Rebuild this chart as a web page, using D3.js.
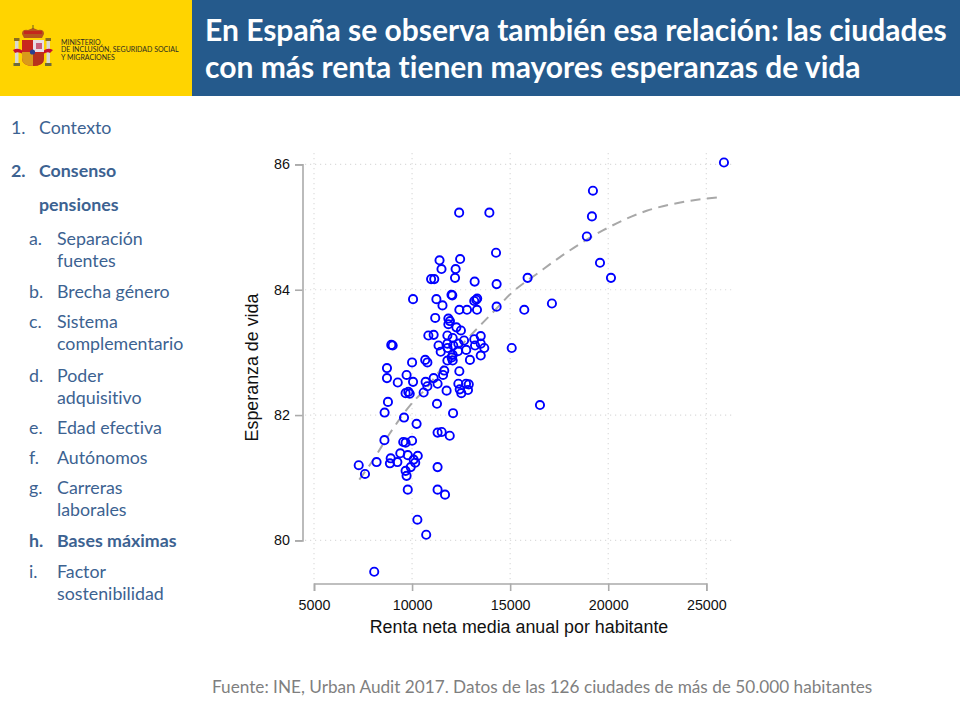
<!DOCTYPE html>
<html lang="es">
<head>
<meta charset="utf-8">
<script src="https://cdn.jsdelivr.net/npm/d3@7"></script>
<style>
html,body{margin:0;padding:0;background:#fff;}
svg{display:block;}
text{font-variant-ligatures:none;}
</style>
</head>
<body>
<svg id="c" width="960" height="720"></svg>
<script>
const income = [12400,13940,14280,11400,12450,11500,12220,12190,13190,10970,11130,15890,14310,12010,12050,10050,11240,11550,13320,13270,13170,12410,12800,13310,14310,15720,11180,11850,11930,11850,12260,12490,10830,11100,11800,13500,12070,13170,12650,11800,12360,13500,13210,11350,12100,11810,13680,15080,8940,9010,11460,12340,12760,12070,13500,12020,11800,12070,12950,10670,10780,10000,8720,8720,12410,11640,11580,9720,11100,10780,10690,10050,9270,11300,12360,12750,12890,12430,12850,12510,11760,10590,9670,9810,9880,11270,8770,8600,12090,9590,10230,11300,11510,11920,8590,10000,9550,9670,9400,9780,10290,8910,10080,8870,9250,8190,10160,9930,11300,7280,7600,9670,9720,9780,11300,11680,10270,10720,8070,25900,19220,19170,18910,19580,20140,17130,16520];
const lifeExp = [85.23,85.23,84.59,84.47,84.49,84.33,84.33,84.19,84.13,84.17,84.17,84.19,84.09,83.92,83.91,83.85,83.85,83.75,83.86,83.84,83.82,83.68,83.68,83.68,83.73,83.68,83.55,83.54,83.50,83.45,83.40,83.35,83.27,83.28,83.27,83.26,83.23,83.21,83.19,83.14,83.14,83.14,83.11,83.11,83.11,83.07,83.07,83.07,83.12,83.11,83.01,83.02,83.04,82.96,82.95,82.92,82.87,82.87,82.88,82.88,82.84,82.84,82.75,82.59,82.70,82.71,82.64,82.64,82.59,82.46,82.53,82.53,82.52,82.50,82.50,82.50,82.49,82.41,82.40,82.35,82.39,82.36,82.35,82.37,82.34,82.18,82.21,82.04,82.03,81.96,81.86,81.72,81.73,81.67,81.60,81.59,81.57,81.56,81.39,81.36,81.35,81.31,81.29,81.23,81.25,81.25,81.24,81.17,81.17,81.20,81.06,81.11,81.03,80.81,80.81,80.73,80.33,80.09,79.50,86.03,85.58,85.17,84.85,84.43,84.19,83.78,82.16];
const fitIncome = [7310,8010,8870,10230,10560,11760,13100,13970,15080,16520,17625,19750,21960,23490,25750];
const fitLife = [80.97,81.28,81.71,82.27,82.37,82.85,83.31,83.59,83.95,84.29,84.54,84.95,85.26,85.38,85.48];
const xTicks = [5000,10000,15000,20000,25000];
const yTicks = [80,82,84,86];
const xTitle = "Renta neta media anual por habitante";
const yTitle = "Esperanza de vida";
const titleLines = ["En España se observa también esa relación: las ciudades","con más renta tienen mayores esperanzas de vida"];
const ministryLines = ["MINISTERIO","DE INCLUSIÓN, SEGURIDAD SOCIAL","Y MIGRACIONES"];
const sourceText = "Fuente: INE, Urban Audit 2017. Datos de las 126 ciudades de más de 50.000 habitantes";
const navMarkers = ["1.","2.","","a.","","b.","c.","","d.","","e.","f.","g.","","h.","i.",""];
const navLabels = ["Contexto","Consenso","pensiones","Separación","fuentes","Brecha género","Sistema","complementario","Poder","adquisitivo","Edad efectiva","Autónomos","Carreras","laborales","Bases máximas","Factor","sostenibilidad"];
const navLevels = [0,0,0,1,1,1,1,1,1,1,1,1,1,1,1,1,1];
const navBold = [0,1,1,0,0,0,0,0,0,0,0,0,0,0,1,0,0];
const navCenters = [128,171,205,239,261,292,322,344,376,398,428,458,488,510,541,572,594];

const svg = d3.select("#c");
const x = d3.scaleLinear().domain([5000,25000]).range([314,706.3]);
const y = d3.scaleLinear().domain([80,86]).range([540.4,164.4]);
const ARIAL = "'Liberation Sans',Arial,sans-serif", CAL = "Lato,'Open Sans',sans-serif";

// Header
svg.append("rect").attr("x",0).attr("y",0).attr("width",192).attr("height",96).attr("fill","#FFD400");
svg.append("rect").attr("x",192).attr("y",0).attr("width",768).attr("height",96).attr("fill","#255A8C");
svg.append("g").selectAll("text").data(titleLines).join("text")
  .attr("x",205).attr("y",(d,i)=>41+i*37).attr("fill","#fff")
  .attr("font-family",CAL).attr("font-weight",700).attr("font-size",30).text(d=>d);

// Crest
const crest = svg.append("g");
const R=(g,x0,y0,w,h,f)=>g.append("rect").attr("x",x0).attr("y",y0).attr("width",w).attr("height",h).attr("fill",f);
crest.append("path").attr("d","M22,34 Q22,29 28,30 L33,28 L38,30 Q44,29 44,34 L42,38 L24,38 Z").attr("fill","#b5561c");
crest.append("path").attr("d","M24,31 h18 v3 h-18 Z").attr("fill","#c4281c");
R(crest,32.5,25,1,4,"#6b5a20");
R(crest,15,40,3.5,24,"#d9d9d0"); R(crest,46.5,40,3.5,24,"#d9d9d0");
R(crest,14,38,5.5,3,"#8a6d20"); R(crest,45.5,38,5.5,3,"#8a6d20");
R(crest,13.5,63,6.5,3,"#6f6a3a"); R(crest,45,63,6.5,3,"#6f6a3a");
crest.append("path").attr("d","M13,50 Q18,47 23,51 L23,54 Q18,51 15,53 Z M53,50 Q48,47 43,51 L43,54 Q48,51 50,53 Z").attr("fill","#c8102e");
crest.append("path").attr("d","M22,40 H44 V58 Q44,66 33,66 Q22,66 22,58 Z").attr("fill","#c8261e");
R(crest,33,40,11,12,"#e6dfe6");
crest.append("path").attr("d","M36,43 h6 v6 h-6 Z").attr("fill","#c9607a");
crest.append("path").attr("d","M22,52 H33 V66 Q22,66 22,58 Z").attr("fill","#d99a1a");
crest.append("path").attr("d","M33,53 H44 V58 Q44,66 33,66 Z").attr("fill","#b8321c");
crest.append("circle").attr("cx",32.5).attr("cy",52).attr("r",2.6).attr("fill","#2a3f8f");
svg.append("g").selectAll("text").data(ministryLines).join("text")
  .attr("x",61).attr("y",(d,i)=>44.5+i*7.6).attr("fill","#2b2b20")
  .attr("font-family",CAL).attr("font-size",7).text(d=>d);

// Side navigation
const navColor = "#3C6291";
const nav = svg.append("g").attr("font-family",CAL).attr("font-size",17.8).attr("fill",navColor);
nav.selectAll("text.label").data(navLabels).join("text").attr("class","label")
  .attr("x",(d,i)=>navLevels[i]?57:39).attr("y",(d,i)=>navCenters[i]+6)
  .attr("font-weight",(d,i)=>navBold[i]?700:400).text(d=>d);
nav.selectAll("text.marker").data(navMarkers).join("text").attr("class","marker")
  .attr("x",(d,i)=>navLevels[i]?29:11).attr("y",(d,i)=>navCenters[i]+6)
  .attr("font-weight",(d,i)=>navBold[i]?700:400).text(d=>d);

// Grid
const grid = svg.append("g").attr("stroke","#dcdcdc").attr("stroke-width",1.2).attr("stroke-dasharray","1.2 3.8");
grid.selectAll("line.h").data(yTicks).join("line").attr("class","h")
  .attr("x1",305).attr("x2",733).attr("y1",d=>y(d)).attr("y2",d=>y(d));
grid.selectAll("line.v").data(xTicks).join("line").attr("class","v")
  .attr("x1",d=>x(d)).attr("x2",d=>x(d)).attr("y1",153).attr("y2",583);

// Axes
const axX = svg.append("g").attr("transform","translate(0,583.5)")
  .call(d3.axisBottom(x).tickValues(xTicks).tickFormat(d3.format("d")).tickSize(7.5).tickPadding(9));
const axY = svg.append("g").attr("transform","translate(302.5,0)")
  .call(d3.axisLeft(y).tickValues(yTicks).tickFormat(d3.format("d")).tickSize(7.5).tickPadding(5));
[axX,axY].forEach(a=>{
  a.selectAll("path,line").attr("stroke","#ababab").attr("stroke-width",1.6);
  a.selectAll("text").attr("fill","#111").attr("font-family",ARIAL).attr("font-size",14.3);
});
svg.append("text").attr("x",519).attr("y",633).attr("text-anchor","middle")
  .attr("font-family",ARIAL).attr("font-size",17.85).attr("fill","#111").text(xTitle);
svg.append("text").attr("transform","translate(258,367.5) rotate(-90)").attr("text-anchor","middle")
  .attr("font-family",ARIAL).attr("font-size",17.85).attr("fill","#111").text(yTitle);

// Fit line
svg.append("path").datum(fitIncome.map((v,i)=>[v,fitLife[i]]))
  .attr("fill","none").attr("stroke","#a8a8a8").attr("stroke-width",2).attr("stroke-dasharray","10 6.5")
  .attr("d",d3.line().x(d=>x(d[0])).y(d=>y(d[1])).curve(d3.curveMonotoneX));

// Points
svg.append("g").selectAll("circle").data(income).join("circle")
  .attr("cx",d=>x(d)).attr("cy",(d,i)=>y(lifeExp[i])).attr("r",4.1)
  .attr("fill","none").attr("stroke","#0000ff").attr("stroke-width",1.9);

// Source
svg.append("text").attr("x",212).attr("y",693).attr("fill","#7f7f7f")
  .attr("font-family",CAL).attr("font-size",17.2).text(sourceText);
</script>
</body>
</html>
